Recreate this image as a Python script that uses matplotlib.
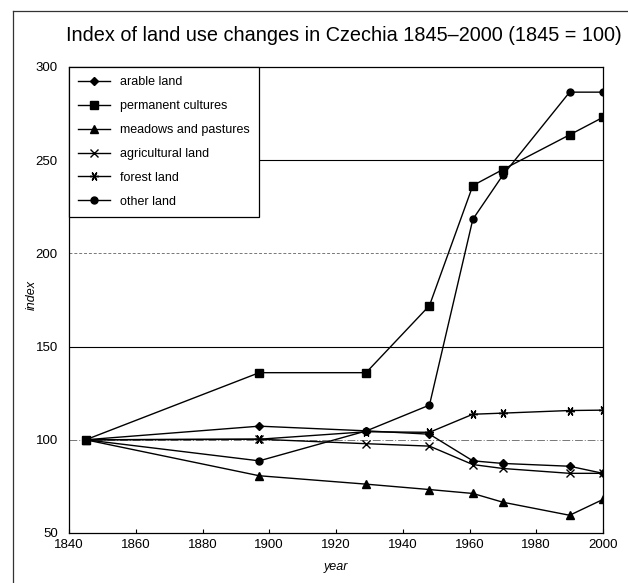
import matplotlib
matplotlib.use("Agg")
import matplotlib.pyplot as plt
from matplotlib.lines import Line2D

plt.rcParams["font.family"] = ["Liberation Sans", "DejaVu Sans"]

years = [1845, 1897, 1929, 1948, 1961, 1970, 1990, 2000]

arable = [100, 107.3, 104.8, 103.0, 88.7, 87.3, 85.8, 82.0]
permanent = [100, 136.0, 136.0, 172.0, 236.4, 245.0, 263.6, 273.0]
meadows = [100, 80.7, 76.2, 73.3, 71.2, 66.5, 59.5, 68.0]
agricultural = [100, 100.3, 97.9, 96.6, 86.7, 84.6, 82.0, 82.0]
forest = [100, 100.3, 104.3, 104.0, 113.7, 114.3, 115.7, 115.9]
other = [100, 88.7, 104.7, 118.6, 218.3, 242.0, 286.5, 286.5]

series = [
    ("arable land", arable, "D", 4.5),
    ("permanent cultures", permanent, "s", 5.5),
    ("meadows and pastures", meadows, "^", 6),
    ("agricultural land", agricultural, "x", 5.5),
    ("forest land", forest, (6, 2, 90), 6.5),
    ("other land", other, "o", 5),
]

fig = plt.figure(figsize=(6.28, 5.83), dpi=100)
ax = fig.add_axes([0.1099, 0.0858, 0.8503, 0.7993])

# reference lines across the plot
ax.axhline(100, color="#777777", lw=0.7, ls=(0, (8, 2, 1, 2)), zorder=1)
ax.axhline(150, color="black", lw=0.8, zorder=1)
ax.axhline(200, color="#777777", lw=0.7, ls=(0, (3, 2)), zorder=1)
ax.axhline(250, color="black", lw=0.8, zorder=1)

for label, vals, mk, ms in series:
    ax.plot(years, vals, color="black", lw=1.0, marker=mk, markersize=ms,
            markeredgewidth=1.0, label=label, zorder=3)

ax.set_xlim(1840, 2000)
ax.set_ylim(50, 300)
ax.set_xticks(range(1840, 2001, 20))
ax.set_yticks(range(50, 301, 50))
ax.tick_params(axis="x", direction="in", length=3, labelsize=9.5, pad=4)
ax.tick_params(axis="y", length=0, labelsize=9.5, pad=8)
for s in ax.spines.values():
    s.set_linewidth(0.9)

ax.set_xlabel("year", fontsize=9, style="italic")
ax.set_ylabel("index", fontsize=9, style="italic")
ax.xaxis.set_label_coords(0.5, -0.06)
ax.yaxis.set_label_coords(-0.058, 0.51)

leg = ax.legend(loc="upper left", bbox_to_anchor=(0, 0, 190 / 534, 1),
                mode="expand", borderaxespad=0, fontsize=9,
                labelspacing=0.95, handlelength=2.5, handletextpad=0.8,
                borderpad=0.75, fancybox=False, framealpha=1)
leg.get_frame().set_edgecolor("black")
leg.get_frame().set_linewidth(0.9)
leg.set_zorder(5)

fig.text(0.548, 0.939, "Index of land use changes in Czechia 1845\u20132000 (1845 = 100)",
         ha="center", va="center", fontsize=14.3)

# frame around the whole figure
fig.add_artist(Line2D([13 / 628, 13 / 628], [0, 572 / 583], color="#333333", lw=0.9))
fig.add_artist(Line2D([13 / 628, 1], [572 / 583, 572 / 583], color="#333333", lw=0.9))

fig.savefig("out.png", dpi=100)
